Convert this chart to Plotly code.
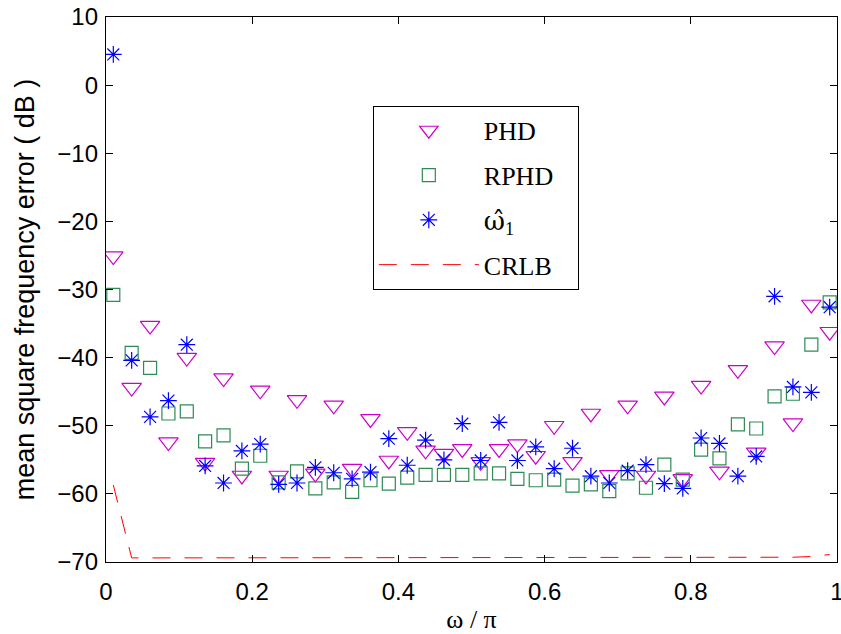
import plotly.graph_objects as go

x_freq = [0.0100, 0.0351, 0.0603, 0.0854, 0.1105, 0.1356, 0.1608, 0.1859, 0.2110, 0.2362,
          0.2613, 0.2864, 0.3115, 0.3367, 0.3618, 0.3869, 0.4121, 0.4372, 0.4623, 0.4874,
          0.5126, 0.5377, 0.5628, 0.5879, 0.6131, 0.6382, 0.6633, 0.6885, 0.7136, 0.7387,
          0.7638, 0.7890, 0.8141, 0.8392, 0.8644, 0.8895, 0.9146, 0.9397, 0.9649, 0.9900]

phd = [-25.1, -44.4, -35.3, -52.4, -40.0, -55.4, -43.0, -57.3, -44.8, -57.3,
       -46.2, -57.0, -47.0, -56.3, -49.0, -55.1, -50.9, -53.6, -54.1, -53.4,
       -55.3, -53.4, -52.7, -54.4, -50.0, -55.3, -48.2, -57.2, -47.0, -57.3,
       -45.7, -57.8, -44.1, -56.7, -41.8, -53.9, -38.3, -49.6, -32.2, -36.2]

rphd = [-30.8, -39.3, -41.5, -48.2, -47.9, -52.3, -51.4, -56.3, -54.4, -58.3,
        -56.7, -59.2, -58.3, -59.7, -58.0, -58.5, -57.6, -57.2, -57.2, -57.2,
        -57.0, -57.0, -57.8, -58.0, -57.9, -58.8, -58.6, -59.6, -57.0, -59.1,
        -55.7, -57.9, -53.5, -54.8, -49.8, -50.4, -45.7, -45.3, -38.1, -31.9]

omega1 = [4.5, -40.4, -48.7, -46.3, -38.1, -55.9, -58.4, -53.7, -52.7, -58.6,
          -58.4, -56.1, -56.9, -57.8, -56.8, -51.9, -55.8, -52.1, -55.0, -49.7,
          -55.1, -49.5, -55.1, -53.1, -56.3, -53.3, -57.4, -58.4, -56.6, -55.7,
          -58.5, -59.2, -51.8, -52.6, -57.4, -54.5, -31.0, -44.3, -45.1, -32.6]

crlb = [-58.7, -69.4, -69.4, -69.4, -69.4, -69.4, -69.4, -69.4, -69.4, -69.4,
        -69.4, -69.4, -69.4, -69.4, -69.4, -69.4, -69.4, -69.4, -69.4, -69.4,
        -69.4, -69.4, -69.4, -69.4, -69.4, -69.4, -69.4, -69.4, -69.4, -69.3,
        -69.3, -69.3, -69.3, -69.3, -69.3, -69.3, -69.3, -69.3, -69.2, -68.9]

x_ticks = [0, 0.2, 0.4, 0.6, 0.8, 1]
y_ticks = [10, 0, -10, -20, -30, -40, -50, -60, -70]

NB = "\u00a0"

fig = go.Figure()
fig.add_trace(go.Scatter(
    x=x_freq, y=phd, mode="markers", name="PHD", legendgroup="a",
    marker=dict(symbol="triangle-down-open", size=17, color="#cc00cc", line=dict(width=1.2, color="#cc00cc")),
))
fig.add_trace(go.Scatter(
    x=x_freq, y=rphd, mode="markers", name="RPHD" + NB * 3, legendgroup="b",
    marker=dict(symbol="square-open", size=13, color="#2e8b57", line=dict(width=1.2, color="#2e8b57")),
))
fig.add_trace(go.Scatter(
    x=x_freq, y=omega1, mode="markers",
    name="<span style=\"font-family:DejaVu Serif\">\u03c9\u0302</span><sub>1</sub>", legendgroup="c",
    marker=dict(symbol="asterisk-open", size=14, color="#0000ff", line=dict(width=1.2, color="#0000ff")),
))
fig.add_trace(go.Scatter(
    x=x_freq, y=crlb, mode="lines", name="CRLB", legendgroup="d",
    line=dict(color="#ff0000", width=1, dash="18px,14px"),
))

axis_common = dict(
    showline=True, linecolor="black", linewidth=1.3, mirror="ticks",
    ticks="inside", ticklen=7, tickwidth=1, tickcolor="black",
    showgrid=False, zeroline=False, automargin=False,
    tickfont=dict(family="Liberation Sans, Arial, sans-serif", size=24, color="black"),
)

fig.update_xaxes(
    range=[0, 1], tickvals=x_ticks, ticktext=[str(v) for v in x_ticks],
    title=dict(text="\u03c9 / \u03c0", font=dict(family="Liberation Serif, Times New Roman, serif", size=26, color="black"), standoff=6),
    ticklabelstandoff=8, ticklabeloverflow="allow",
    **axis_common,
)
fig.update_yaxes(
    range=[-70, 10], tickvals=y_ticks,
    title=dict(text="mean square frequency error ( dB )", font=dict(family="Liberation Sans, Arial, sans-serif", size=27, color="black"), standoff=14),
    ticklabelstandoff=2,
    **axis_common,
)

fig.update_layout(
    width=841, height=634,
    margin=dict(l=106, r=4, t=17, b=72),
    paper_bgcolor="white", plot_bgcolor="white",
    showlegend=True,
    legend=dict(
        x=0.365, y=0.837, xanchor="left", yanchor="top",
        bgcolor="white", bordercolor="black", borderwidth=1,
        font=dict(family="Liberation Serif, Times New Roman, serif", size=26, color="black"),
        itemwidth=100, tracegroupgap=8,
    ),
)

fig.write_html("out.html")
